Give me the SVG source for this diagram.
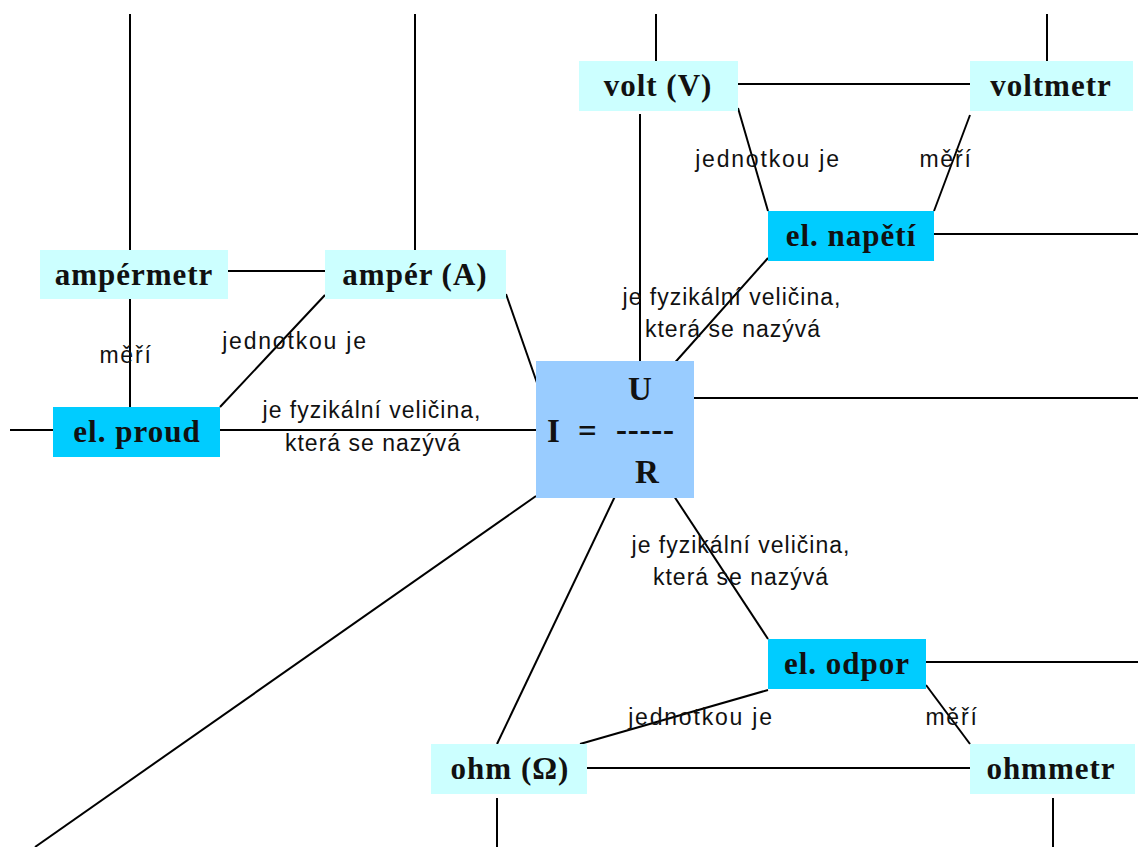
<svg xmlns="http://www.w3.org/2000/svg" width="1138" height="847" viewBox="0 0 1138 847">
  <style>
    .lt { fill: #CCFFFF; }
    .dk { fill: #00CCFF; }
    .ctr { fill: #99CCFF; }
    .nt { font-family: "Liberation Serif", "Times New Roman", serif; font-weight: bold; font-size: 31px; letter-spacing: 1px; fill: #111; text-anchor: middle; }
    .lb { font-family: "Liberation Sans", Arial, sans-serif; font-size: 23px; letter-spacing: 1px; fill: #111; text-anchor: middle; }
    .wide { letter-spacing: 1.8px; }
    .eq { font-family: "Liberation Serif", "Times New Roman", serif; font-weight: bold; font-size: 33px; fill: #111; }
    #connectors line { stroke: #000; stroke-width: 2; }
  </style>
  <rect width="1138" height="847" fill="#fff"/>

  <!-- connectors -->
  <g id="connectors">
    <line x1="130" y1="14" x2="130" y2="250"/>
    <line x1="415" y1="14" x2="415" y2="250"/>
    <line x1="656" y1="14" x2="656" y2="61"/>
    <line x1="1047" y1="14" x2="1047" y2="61"/>
    <line x1="228" y1="271" x2="325" y2="271"/>
    <line x1="130" y1="299" x2="130" y2="407"/>
    <line x1="325" y1="295" x2="220" y2="407"/>
    <line x1="10" y1="430" x2="53" y2="430"/>
    <line x1="220" y1="430" x2="536" y2="430"/>
    <line x1="506" y1="294" x2="543" y2="400"/>
    <line x1="738" y1="84" x2="970" y2="84"/>
    <line x1="738" y1="108" x2="768" y2="211"/>
    <line x1="970" y1="115" x2="934" y2="211"/>
    <line x1="640" y1="114" x2="640" y2="368"/>
    <line x1="768" y1="258" x2="663" y2="376"/>
    <line x1="934" y1="234" x2="1138" y2="234"/>
    <line x1="694" y1="398" x2="1138" y2="398"/>
    <line x1="670" y1="490" x2="768" y2="639"/>
    <line x1="618" y1="490" x2="497" y2="744"/>
    <line x1="536" y1="496" x2="35" y2="847"/>
    <line x1="926" y1="662" x2="1138" y2="662"/>
    <line x1="768" y1="690" x2="580" y2="744"/>
    <line x1="926" y1="685" x2="970" y2="744"/>
    <line x1="587" y1="768" x2="970" y2="768"/>
    <line x1="497" y1="798" x2="497" y2="847"/>
    <line x1="1053" y1="798" x2="1053" y2="847"/>
  </g>

  <!-- connector labels -->
  <g id="labels">
    <text class="lb wide" x="126" y="363">měří</text>
    <text class="lb wide" x="295" y="349">jednotkou je</text>
    <text class="lb" x="372" y="418">je fyzikální veličina,</text>
    <text class="lb" x="373" y="451">která se nazývá</text>
    <text class="lb wide" x="768" y="167">jednotkou je</text>
    <text class="lb wide" x="946" y="167">měří</text>
    <text class="lb" x="732" y="305">je fyzikální veličina,</text>
    <text class="lb" x="733" y="337">která se nazývá</text>
    <text class="lb" x="741" y="553">je fyzikální veličina,</text>
    <text class="lb" x="741" y="585">která se nazývá</text>
    <text class="lb wide" x="701" y="725">jednotkou je</text>
    <text class="lb wide" x="952" y="725">měří</text>
  </g>

  <g id="amperemetr"><rect class="lt" x="40" y="250" width="188" height="49"/><text class="nt" x="134" y="285">ampérmetr</text></g>
  <g id="amper"><rect class="lt" x="325" y="250" width="181" height="49"/><text class="nt" x="415" y="285">ampér (A)</text></g>
  <g id="proud"><rect class="dk" x="53" y="407" width="167" height="50"/><text class="nt" x="137" y="442">el. proud</text></g>
  <g id="ohm-law">
    <rect class="ctr" x="536" y="361" width="158" height="137"/>
    <text class="eq" x="547" y="442">I</text>
    <text class="eq" x="578" y="442">=</text>
    <text class="eq" x="616" y="441" textLength="58">-----</text>
    <text class="eq" x="640" y="400" text-anchor="middle">U</text>
    <text class="eq" x="647" y="483" text-anchor="middle">R</text>
  </g>
  <g id="volt"><rect class="lt" x="579" y="61" width="159" height="50"/><text class="nt" x="658" y="96">volt (V)</text></g>
  <g id="voltmetr"><rect class="lt" x="970" y="61" width="163" height="50"/><text class="nt" x="1051" y="96">voltmetr</text></g>
  <g id="napeti"><rect class="dk" x="768" y="211" width="166" height="50"/><text class="nt" x="851" y="246">el. napětí</text></g>
  <g id="odpor"><rect class="dk" x="768" y="639" width="158" height="50"/><text class="nt" x="847" y="674">el. odpor</text></g>
  <g id="ohm"><rect class="lt" x="431" y="744" width="156" height="50"/><text class="nt" x="510" y="779">ohm (Ω)</text></g>
  <g id="ohmmetr"><rect class="lt" x="970" y="744" width="165" height="50"/><text class="nt" x="1051" y="779">ohmmetr</text></g>
</svg>
